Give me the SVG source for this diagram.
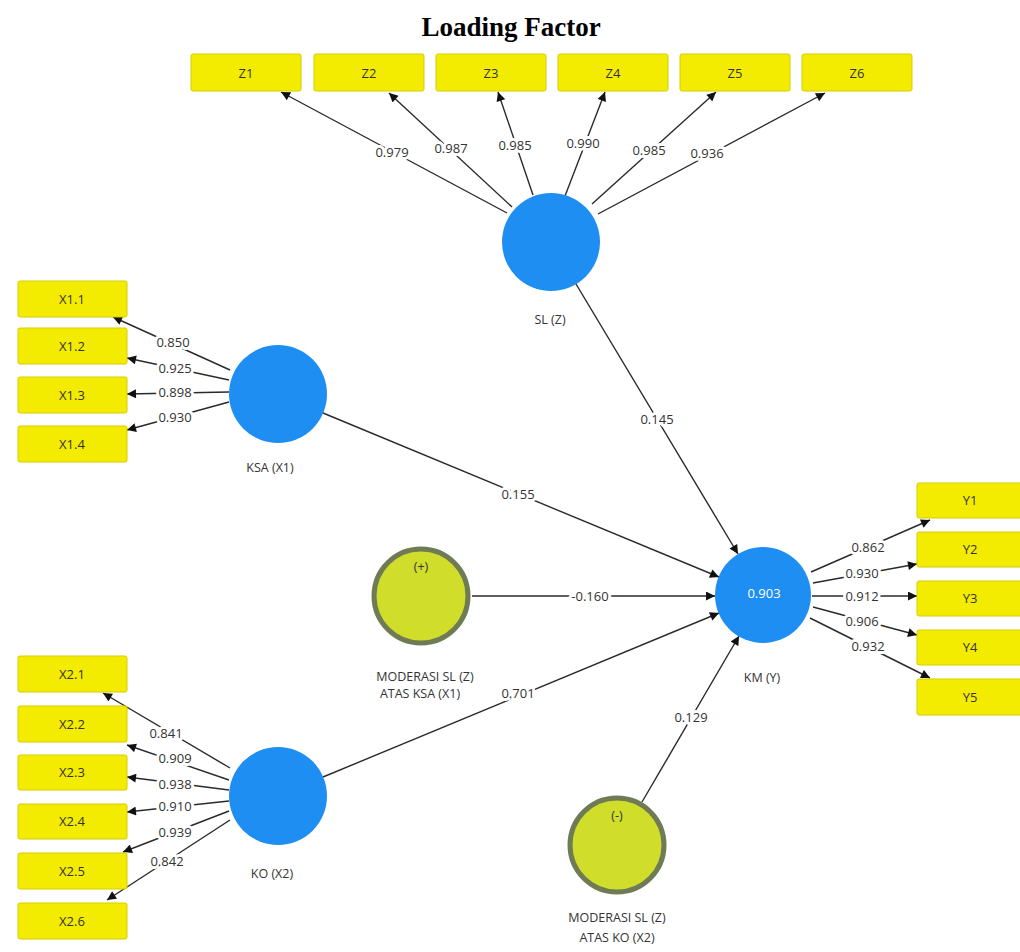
<svg xmlns="http://www.w3.org/2000/svg" width="1020" height="952" viewBox="0 0 1020 952">
<style>
.bg{fill:#ffffff}
.title{font-family:"Liberation Serif",serif;font-weight:bold;font-size:27px;fill:#000;text-anchor:middle}
.box{fill:#f4ec00;stroke:#d6cc00;stroke-width:1}
.bt{font-family:"Open Sans","DejaVu Sans",sans-serif;font-size:13px;fill:#333;text-anchor:middle;dominant-baseline:central}
.lv{fill:#1e8ef2}
.mod{fill:#d0dd2a;stroke:#6f7b55;stroke-width:5}
.nl{font-family:"Open Sans","DejaVu Sans",sans-serif;font-size:12.5px;fill:#333;text-anchor:middle;dominant-baseline:central}
.in{font-family:"Open Sans","DejaVu Sans",sans-serif;font-size:13px;fill:#ffffff;text-anchor:middle;dominant-baseline:central}
.c{stroke:#2a2a2a;stroke-width:1.4;fill:none;marker-end:url(#ah)}
.cl{font-family:"Open Sans","DejaVu Sans",sans-serif;font-size:13px;fill:#333;text-anchor:middle;dominant-baseline:central;stroke:#ffffff;stroke-width:6;paint-order:stroke;stroke-linejoin:round}
</style>
<defs>
<marker id="ah" viewBox="0 0 10 10" refX="10" refY="5" markerWidth="10" markerHeight="9" markerUnits="userSpaceOnUse" orient="auto">
<path d="M0,0 L10,5 L0,10 z" fill="#111"/>
</marker>
</defs>
<rect class="bg" x="0" y="0" width="1020" height="952"/>
<text class="title" x="511" y="36">Loading Factor</text>

<g id="connectors">
<line class="c" x1="507" y1="213" x2="281" y2="92"/>
<line class="c" x1="512" y1="207" x2="389" y2="93"/>
<line class="c" x1="533" y1="195" x2="498" y2="92"/>
<line class="c" x1="565" y1="196" x2="605" y2="92"/>
<line class="c" x1="592" y1="204" x2="716" y2="92"/>
<line class="c" x1="598" y1="214" x2="825" y2="93"/>
<line class="c" x1="230" y1="370" x2="113" y2="317"/>
<line class="c" x1="229" y1="380" x2="127" y2="358"/>
<line class="c" x1="229" y1="392" x2="127" y2="394"/>
<line class="c" x1="229" y1="402" x2="127" y2="430"/>
<line class="c" x1="230" y1="768" x2="103" y2="693"/>
<line class="c" x1="229" y1="780" x2="127" y2="745"/>
<line class="c" x1="229" y1="790" x2="127" y2="777"/>
<line class="c" x1="229" y1="801" x2="127" y2="812"/>
<line class="c" x1="229" y1="811" x2="123" y2="852"/>
<line class="c" x1="230" y1="820" x2="107" y2="900"/>
<line class="c" x1="811" y1="572" x2="930" y2="520"/>
<line class="c" x1="813" y1="583" x2="917" y2="564"/>
<line class="c" x1="812" y1="596" x2="917" y2="596"/>
<line class="c" x1="813" y1="607" x2="917" y2="635"/>
<line class="c" x1="810" y1="618" x2="930" y2="678"/>
<line class="c" x1="576" y1="284" x2="738" y2="554"/>
<line class="c" x1="323" y1="413" x2="719" y2="577"/>
<line class="c" x1="472" y1="596" x2="715" y2="596"/>
<line class="c" x1="323" y1="777" x2="719" y2="613"/>
<line class="c" x1="642" y1="802" x2="739" y2="636"/>
<text class="cl" x="392" y="152">0.979</text>
<text class="cl" x="451" y="148">0.987</text>
<text class="cl" x="515" y="145">0.985</text>
<text class="cl" x="583" y="143">0.990</text>
<text class="cl" x="649" y="150">0.985</text>
<text class="cl" x="707" y="153">0.936</text>
<text class="cl" x="173" y="342">0.850</text>
<text class="cl" x="175" y="368">0.925</text>
<text class="cl" x="175" y="392">0.898</text>
<text class="cl" x="175" y="417">0.930</text>
<text class="cl" x="166" y="733">0.841</text>
<text class="cl" x="175" y="758">0.909</text>
<text class="cl" x="175" y="784">0.938</text>
<text class="cl" x="175" y="806">0.910</text>
<text class="cl" x="175" y="832">0.939</text>
<text class="cl" x="167" y="861">0.842</text>
<text class="cl" x="868" y="547">0.862</text>
<text class="cl" x="862" y="573">0.930</text>
<text class="cl" x="862" y="596">0.912</text>
<text class="cl" x="862" y="621">0.906</text>
<text class="cl" x="868" y="646">0.932</text>
<text class="cl" x="657" y="419">0.145</text>
<text class="cl" x="518" y="494">0.155</text>
<text class="cl" x="590" y="596">-0.160</text>
<text class="cl" x="518" y="693">0.701</text>
<text class="cl" x="691" y="717">0.129</text>
</g>

<g id="Z1"><rect class="box" x="191" y="54" width="110" height="37" rx="2"/><text class="bt" x="246" y="73">Z1</text></g>
<g id="Z2"><rect class="box" x="314" y="54" width="110" height="37" rx="2"/><text class="bt" x="369" y="73">Z2</text></g>
<g id="Z3"><rect class="box" x="436" y="54" width="110" height="37" rx="2"/><text class="bt" x="491" y="73">Z3</text></g>
<g id="Z4"><rect class="box" x="558" y="54" width="110" height="37" rx="2"/><text class="bt" x="613" y="73">Z4</text></g>
<g id="Z5"><rect class="box" x="680" y="54" width="110" height="37" rx="2"/><text class="bt" x="735" y="73">Z5</text></g>
<g id="Z6"><rect class="box" x="802" y="54" width="110" height="37" rx="2"/><text class="bt" x="857" y="73">Z6</text></g>

<g id="X1.1"><rect class="box" x="18" y="281" width="109" height="36" rx="2"/><text class="bt" x="72" y="299">X1.1</text></g>
<g id="X1.2"><rect class="box" x="18" y="328" width="109" height="36" rx="2"/><text class="bt" x="72" y="346">X1.2</text></g>
<g id="X1.3"><rect class="box" x="18" y="377" width="109" height="36" rx="2"/><text class="bt" x="72" y="395">X1.3</text></g>
<g id="X1.4"><rect class="box" x="18" y="426" width="109" height="36" rx="2"/><text class="bt" x="72" y="444">X1.4</text></g>

<g id="X2.1"><rect class="box" x="18" y="656" width="109" height="36" rx="2"/><text class="bt" x="72" y="674">X2.1</text></g>
<g id="X2.2"><rect class="box" x="18" y="706" width="109" height="36" rx="2"/><text class="bt" x="72" y="724">X2.2</text></g>
<g id="X2.3"><rect class="box" x="18" y="755" width="109" height="35" rx="2"/><text class="bt" x="72" y="772">X2.3</text></g>
<g id="X2.4"><rect class="box" x="18" y="804" width="109" height="35" rx="2"/><text class="bt" x="72" y="821">X2.4</text></g>
<g id="X2.5"><rect class="box" x="18" y="853" width="109" height="36" rx="2"/><text class="bt" x="72" y="871">X2.5</text></g>
<g id="X2.6"><rect class="box" x="18" y="903" width="109" height="36" rx="2"/><text class="bt" x="72" y="921">X2.6</text></g>

<g id="Y1"><rect class="box" x="917" y="483" width="110" height="35" rx="2"/><text class="bt" x="970" y="500">Y1</text></g>
<g id="Y2"><rect class="box" x="917" y="532" width="110" height="35" rx="2"/><text class="bt" x="970" y="549">Y2</text></g>
<g id="Y3"><rect class="box" x="917" y="581" width="110" height="35" rx="2"/><text class="bt" x="970" y="598">Y3</text></g>
<g id="Y4"><rect class="box" x="917" y="630" width="110" height="35" rx="2"/><text class="bt" x="970" y="647">Y4</text></g>
<g id="Y5"><rect class="box" x="917" y="679" width="110" height="36" rx="2"/><text class="bt" x="970" y="697">Y5</text></g>

<g id="SL"><circle class="lv" cx="551" cy="242" r="49"/><text class="nl" x="550" y="319">SL (Z)</text></g>
<g id="KSA"><circle class="lv" cx="278" cy="394" r="49"/><text class="nl" x="270" y="467">KSA (X1)</text></g>
<g id="KO"><circle class="lv" cx="278" cy="796" r="49"/><text class="nl" x="272" y="873">KO (X2)</text></g>
<g id="KM"><circle class="lv" cx="763" cy="595" r="48"/><text class="in" x="764" y="593">0.903</text><text class="nl" x="762" y="677">KM (Y)</text></g>
<g id="MOD1"><circle class="mod" cx="421" cy="596" r="47"/><text class="nl" x="421" y="566" font-size="10">(+)</text><text class="nl" x="425" y="676">MODERASI SL (Z)</text><text class="nl" x="420" y="693">ATAS KSA (X1)</text></g>
<g id="MOD2"><circle class="mod" cx="617" cy="845" r="47"/><text class="nl" x="617" y="815" font-size="10">(-)</text><text class="nl" x="617" y="917">MODERASI SL (Z)</text><text class="nl" x="617" y="937">ATAS KO (X2)</text></g>
</svg>
